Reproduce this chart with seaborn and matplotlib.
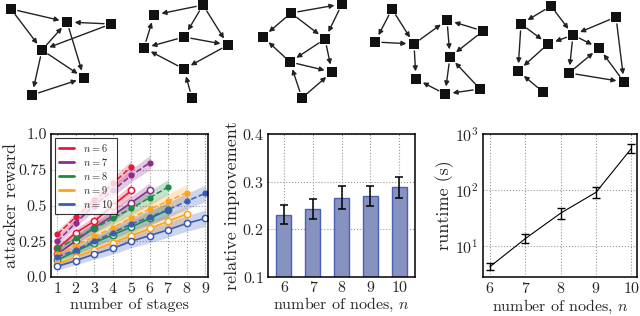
import numpy as np
import matplotlib
matplotlib.use('Agg')
import matplotlib.pyplot as plt
from matplotlib.lines import Line2D
import pandas as pd
import seaborn as sns

# ---- top row: example graphs (node positions in image pixels) ----
g1_x = [11, 67, 111, 42, 84, 32]
g1_y = [9, 22, 24, 50, 78, 95]
g1_edges = [(0, 1), (0, 3), (2, 1), (3, 1), (2, 3), (3, 5), (3, 4), (1, 4), (5, 4)]

g2_x = [203, 154, 184, 228, 144, 184, 192]
g2_y = [5, 15, 37, 45, 48, 69, 98]
g2_edges = [(0, 1), (0, 2), (0, 3), (2, 4), (2, 3), (4, 1), (3, 5), (5, 4), (6, 5)]

g3_x = [291, 342, 263, 325, 290, 332, 302]
g3_y = [13, 4, 37, 39, 62, 72, 98]
g3_edges = [(0, 1), (1, 3), (0, 2), (0, 3), (3, 4), (3, 5), (4, 2), (4, 5), (6, 4), (6, 5)]

g4_x = [392, 375, 414, 447, 483, 450, 416, 445, 480]
g4_y = [9, 42, 44, 20, 31, 57, 79, 94, 89]
g4_edges = [(0, 1), (0, 2), (1, 2), (2, 3), (2, 6), (4, 3), (4, 5), (3, 5), (5, 7),
            (8, 5), (8, 7), (7, 6)]

g5_x = [551, 521, 616, 573, 548, 599, 518, 569, 624, 543]
g5_y = [6, 24, 17, 35, 44, 48, 71, 73, 82, 92]
g5_edges = [(0, 1), (0, 3), (1, 4), (1, 6), (2, 3), (2, 8), (3, 4), (3, 5), (3, 7),
            (4, 6), (7, 5), (7, 8), (8, 5), (9, 6)]

graphs = [(g1_x, g1_y, g1_edges), (g2_x, g2_y, g2_edges), (g3_x, g3_y, g3_edges),
          (g4_x, g4_y, g4_edges), (g5_x, g5_y, g5_edges)]

# ---- panel 1: attacker reward vs number of stages ----
n_values = [6, 7, 8, 9, 10]
colors = ['#e8173f', '#8e2b8e', '#1d8a43', '#ffa31a', '#3b5bb8']
reward_dashed = {
    6: [0.30, 0.42, 0.535, 0.655, 0.77],
    7: [0.25, 0.38, 0.50, 0.605, 0.71, 0.80],
    8: [0.20, 0.27, 0.34, 0.41, 0.48, 0.555, 0.63],
    9: [0.16, 0.22, 0.285, 0.345, 0.415, 0.475, 0.53, 0.59],
    10: [0.14, 0.19, 0.25, 0.31, 0.37, 0.42, 0.47, 0.53, 0.585],
}
reward_solid = {
    6: [0.20, 0.31, 0.39, 0.50, 0.605],
    7: [0.16, 0.255, 0.345, 0.43, 0.52, 0.61],
    8: [0.12, 0.18, 0.24, 0.295, 0.35, 0.41, 0.47],
    9: [0.09, 0.14, 0.19, 0.24, 0.29, 0.34, 0.39, 0.44],
    10: [0.075, 0.115, 0.16, 0.20, 0.25, 0.29, 0.33, 0.375, 0.41],
}
band = [0.025, 0.03, 0.035, 0.04, 0.045, 0.05, 0.052, 0.055, 0.058]

# ---- panel 2: relative improvement ----
nodes = [6, 7, 8, 9, 10]
improvement = [0.231, 0.243, 0.266, 0.269, 0.288]
improvement_err = [0.020, 0.021, 0.024, 0.021, 0.022]

# ---- panel 3: runtime ----
runtime = [4.3, 13.6, 38.7, 91, 551]
runtime_lo = [3.8, 11.3, 31, 73, 450]
runtime_hi = [5.0, 16.3, 47, 111, 675]

sns.set_style('white')
plt.rcParams['font.family'] = 'serif'
plt.rcParams['font.serif'] = ['cmr10', 'DejaVu Serif']
plt.rcParams['mathtext.fontset'] = 'cm'
plt.rcParams['axes.formatter.use_mathtext'] = True
plt.rcParams['axes.unicode_minus'] = False

fig = plt.figure(figsize=(6.4, 3.16), dpi=100)
W, H = 640.0, 316.0

# top graphs
axg = fig.add_axes([0, 1 - 107 / H, 1, 107 / H])
axg.set_xlim(0, W)
axg.set_ylim(107, 0)
axg.axis('off')
for gx, gy, edges in graphs:
    for a, b in edges:
        axg.annotate('', xy=(gx[b], gy[b]), xytext=(gx[a], gy[a]),
                     arrowprops=dict(arrowstyle='-|>', color='#222222', lw=1.0,
                                     shrinkA=5, shrinkB=5.5, mutation_scale=7))
    axg.scatter(gx, gy, marker='s', s=62, color='#111111', zorder=3, linewidths=0)

grid_kw = dict(color='#999999', linestyle=':', linewidth=0.8)
TICK_FS = 11.5
XLAB_FS = 11.5
YLAB_FS = 13


def style_axes(ax):
    for sp in ax.spines.values():
        sp.set_visible(True)
        sp.set_color('black')
        sp.set_linewidth(1.1)
    ax.tick_params(length=0, labelsize=TICK_FS, pad=3)
    ax.grid(True, **grid_kw)
    ax.set_axisbelow(True)


# panel 1
ax1 = fig.add_axes([51 / W, (H - 277) / H, (208 - 51) / W, (277 - 134) / H])
handles = []
for n, c in zip(n_values, colors):
    yd = np.array(reward_dashed[n])
    ys = np.array(reward_solid[n])
    st = np.arange(1, len(yd) + 1)
    bw = np.array(band[:len(yd)])
    ax1.fill_between(st, yd - bw, yd + bw, color=c, alpha=0.25, linewidth=0)
    ax1.fill_between(st, ys - bw, ys + bw, color=c, alpha=0.25, linewidth=0)
    sns.lineplot(x=st, y=yd, ax=ax1, color=c, linestyle='--', linewidth=1.1,
                 marker='o', markersize=4.5, markeredgewidth=0)
    sns.lineplot(x=st, y=ys, ax=ax1, color=c, linestyle='-', linewidth=1.2,
                 marker='o', markersize=4.5, markerfacecolor='white',
                 markeredgecolor=c, markeredgewidth=1.1)
    handles.append(Line2D([], [], color=c, lw=2, label=r'$n = %d$' % n))
ax1.set_xlim(0.65, 9.15)
ax1.set_ylim(0, 1.0)
ax1.set_xticks(range(1, 10))
ax1.set_yticks([0.0, 0.25, 0.5, 0.75, 1.0])
ax1.set_yticklabels(['0.0', '0.25', '0.5', '0.75', '1.0'])
style_axes(ax1)
ax1.set_xlabel('number of stages', fontsize=XLAB_FS, labelpad=1)
ax1.set_ylabel('attacker reward', fontsize=YLAB_FS, labelpad=0)
leg = ax1.legend(handles=handles, loc='upper left', fontsize=7.5, frameon=True,
                 fancybox=False, edgecolor='black', handlelength=1.5,
                 borderpad=0.4, labelspacing=0.2, borderaxespad=0.35)
leg.get_frame().set_linewidth(0.8)

# panel 2
ax2 = fig.add_axes([268 / W, (H - 277) / H, (415 - 268) / W, (277 - 134) / H])
df2 = pd.DataFrame({'n': [str(v) for v in nodes], 'imp': improvement})
sns.barplot(data=df2, x='n', y='imp', ax=ax2, width=0.52, color='#7d8cc9',
            edgecolor='#4a60b5', linewidth=1.0, errorbar=None)
ax2.errorbar(range(len(nodes)), improvement, yerr=improvement_err, fmt='none',
             ecolor='black', elinewidth=1.1, capsize=3, capthick=1.1)
ax2.set_xlim(-0.55, 4.55)
ax2.set_ylim(0.1, 0.4)
ax2.set_yticks([0.1, 0.2, 0.3, 0.4])
style_axes(ax2)
ax2.set_xlabel(r'number of nodes, $n$', fontsize=XLAB_FS, labelpad=1)
ax2.set_ylabel('relative improvement', fontsize=YLAB_FS, labelpad=1)

# panel 3
ax3 = fig.add_axes([483 / W, (H - 277) / H, (637 - 483) / W, (277 - 134) / H])
rt = np.array(runtime)
yerr = [rt - np.array(runtime_lo), np.array(runtime_hi) - rt]
sns.lineplot(x=nodes, y=runtime, ax=ax3, color='black', linewidth=0.8)
ax3.errorbar(nodes, runtime, yerr=yerr, fmt='none', ecolor='black',
             elinewidth=1.0, capsize=3, capthick=1.0)
ax3.set_yscale('log')
ax3.set_xlim(5.8, 10.16)
ax3.set_ylim(2.8, 1000)
ax3.set_xticks(nodes)
ax3.set_yticks([10, 100, 1000])
ax3.minorticks_off()
style_axes(ax3)
ax3.set_xlabel(r'number of nodes, $n$', fontsize=XLAB_FS, labelpad=1)
ax3.set_ylabel('runtime (s)', fontsize=YLAB_FS, labelpad=1)

fig.savefig('out.png', dpi=100)
